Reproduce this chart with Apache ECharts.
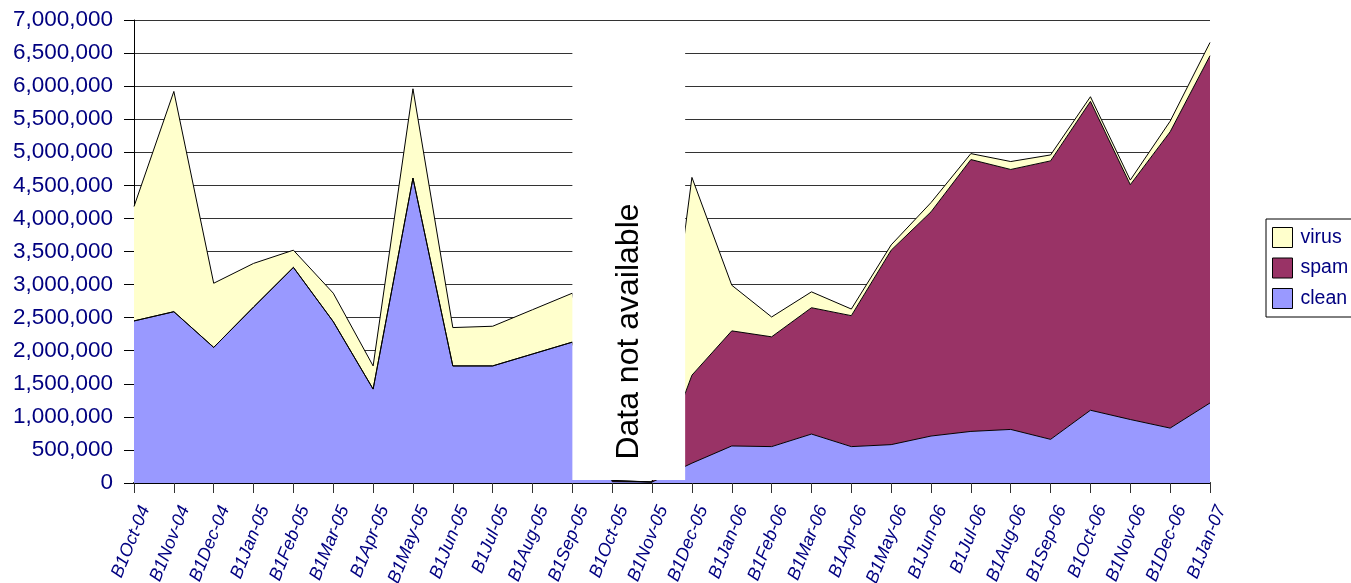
<!DOCTYPE html>
<html>
<head>
<meta charset="utf-8">
<script src="https://cdn.jsdelivr.net/npm/echarts@6/dist/echarts.min.js"></script>
<style>html,body{margin:0;padding:0;background:#fff;}#c{width:1351px;height:583px;}</style>
</head>
<body>
<div id="c"></div>
<script>
const categories = ['B1Oct-04','B1Nov-04','B1Dec-04','B1Jan-05','B1Feb-05','B1Mar-05','B1Apr-05','B1May-05','B1Jun-05','B1Jul-05','B1Aug-05','B1Sep-05','B1Oct-05','B1Nov-05','B1Dec-05','B1Jan-06','B1Feb-06','B1Mar-06','B1Apr-06','B1May-06','B1Jun-06','B1Jul-06','B1Aug-06','B1Sep-06','B1Oct-06','B1Nov-06','B1Dec-06','B1Jan-07'];
const clean = [2450000,2590000,2050000,2660000,3260000,2440000,1420000,4610000,1770000,1770000,1950000,2130000,20000,15000,300000,560000,550000,740000,550000,580000,710000,780000,810000,660000,1100000,960000,830000,1210000];
const spam  = [0,0,0,0,0,0,0,0,0,0,0,0,15000,0,1330000,1740000,1660000,1910000,1980000,2940000,3390000,4110000,3930000,4210000,4670000,3550000,4480000,5250000];
const virus = [1730000,3330000,970000,660000,260000,430000,350000,1350000,580000,600000,670000,740000,5000,0,2990000,690000,300000,240000,100000,80000,140000,90000,120000,90000,70000,70000,160000,200000];
const yTicks = {min:0, max:7000000, interval:500000};
const gapNote = 'Data not available';

const chart = echarts.init(document.getElementById('c'));
const navy = '#000080';
function areaSeries(name, data, color){
  return {
    name, type:'line', stack:'total', data, showSymbol:false, symbol:'none',
    color: color,
    itemStyle:{color:color},
    lineStyle:{color:'#000', width:1},
    areaStyle:{color:color, opacity:1},
    emphasis:{disabled:true}
  };
}
chart.setOption({
  animation:false,
  backgroundColor:'#fff',
  grid:{left:134, right:141, top:20, bottom:100, containLabel:false, outerBoundsMode:'none'},
  legend:{
    orient:'vertical', left:1266, top:219,
    data:['virus','spam','clean'],
    icon:'rect', itemWidth:20, itemHeight:20, itemGap:9.5,
    padding:[8,20,8,6],
    borderColor:'#000', borderWidth:1,
    itemStyle:{borderColor:'#000', borderWidth:1},
    textStyle:{color:navy, fontSize:19.5, fontFamily:'Arial, Liberation Sans', padding:[0,0,0,3]}
  },
  xAxis:{
    type:'category', data:categories, boundaryGap:false,
    axisLine:{lineStyle:{color:'#000', width:2}},
    axisTick:{show:true, length:10, lineStyle:{color:'#333'}},
    axisLabel:{color:navy, fontSize:18, fontStyle:'italic', fontFamily:'Arial, Liberation Sans', rotate:68, margin:19, interval:0,
      verticalAlign:'top', lineHeight:24},
    splitLine:{show:false}
  },
  yAxis:{
    type:'value', min:yTicks.min, max:yTicks.max, interval:yTicks.interval,
    axisLine:{show:true, lineStyle:{color:'#000', width:1}},
    axisTick:{show:true, length:10, lineStyle:{color:'#000'}},
    axisLabel:{color:navy, fontSize:22.5, fontFamily:'Arial, Liberation Sans', margin:21,
      formatter:v=>v.toLocaleString('en-US')},
    splitLine:{show:true, lineStyle:{color:'#333', width:1}}
  },
  series:[
    areaSeries('clean', clean, '#9999FF'),
    areaSeries('spam', spam, '#993366'),
    areaSeries('virus', virus, '#FFFFCC')
  ]
});

const x0 = chart.convertToPixel({xAxisIndex:0}, 'B1Sep-05');
const xn = chart.convertToPixel({xAxisIndex:0}, 'B1Nov-05');
const xd = chart.convertToPixel({xAxisIndex:0}, 'B1Dec-05');
const x1 = xn + 0.83*(xd - xn);
const yTop = chart.convertToPixel({yAxisIndex:0}, 6920000);
const yBot = chart.convertToPixel({yAxisIndex:0}, 45000);
chart.setOption({
  graphic:[
    {type:'rect', z:100, shape:{x:x0, y:yTop, width:x1-x0, height:yBot-yTop}, style:{fill:'#fff'}},
    {type:'text', z:101, x:(x0+x1)/2, y:chart.convertToPixel({yAxisIndex:0}, 2290000), rotation:Math.PI/2,
     style:{text:gapNote, fill:'#000', font:'32px Arial, "Liberation Sans"', align:'center', verticalAlign:'middle'}}
  ]
});
</script>
</body>
</html>
